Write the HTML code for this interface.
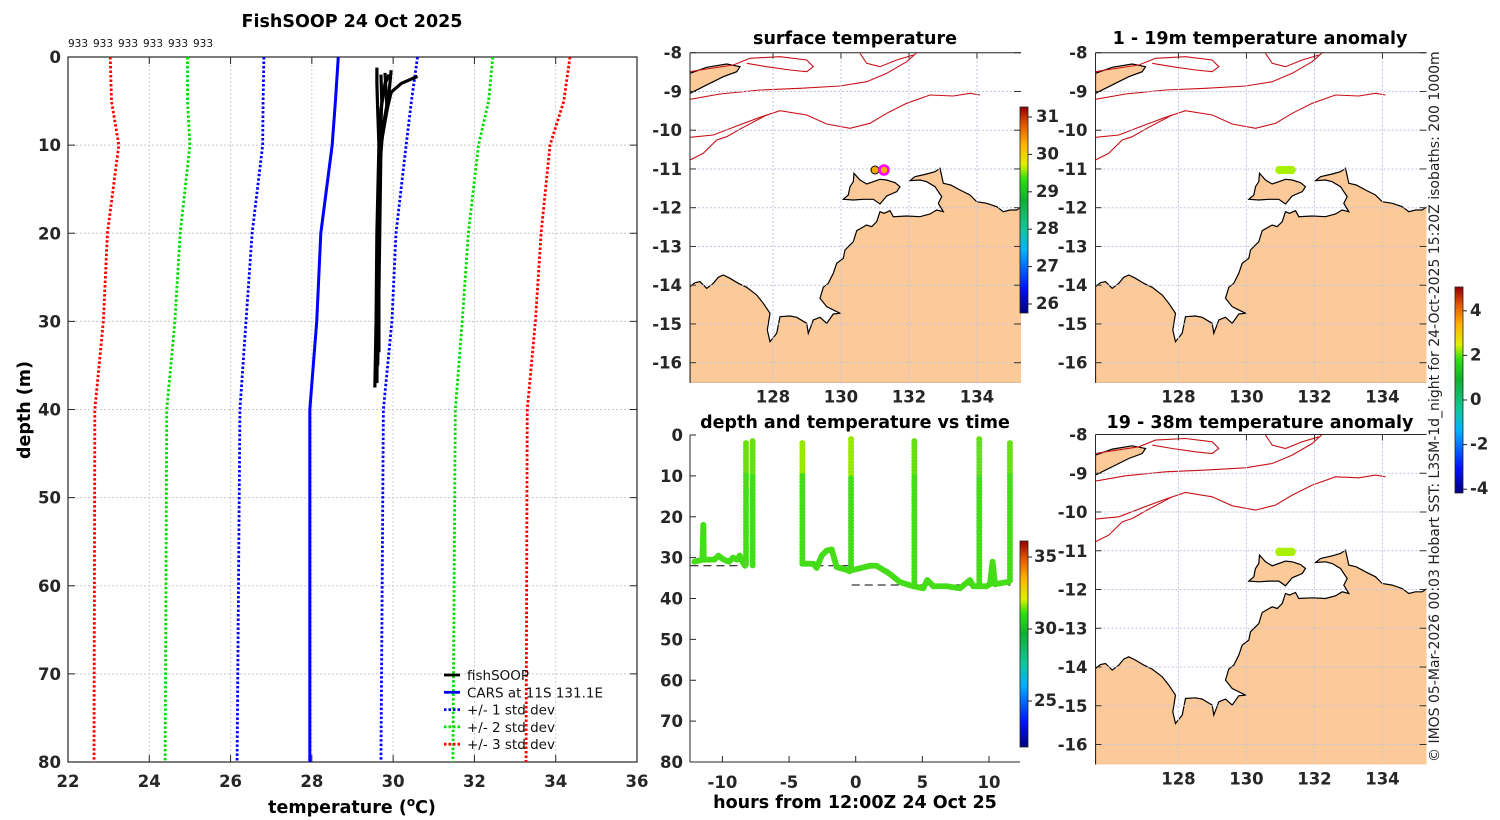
<!DOCTYPE html>
<html><head><meta charset="utf-8">
<style>
html,body{margin:0;padding:0;background:#fff;}
svg{display:block;font-family:"DejaVu Sans","Liberation Sans",sans-serif;}
.tk{font-size:16.5px;font-weight:bold;fill:#262626;}
.ttl{font-size:17.5px;font-weight:bold;fill:#000;}
.pl{font-weight:normal;fill:#111;}
</style></head>
<body>
<svg id="fig" width="1500" height="820" viewBox="0 0 1500 820" xmlns="http://www.w3.org/2000/svg">
<defs>
<linearGradient id="jet" x1="0" y1="1" x2="0" y2="0">
<stop offset="0" stop-color="#00007f"/><stop offset="0.12" stop-color="#0010ff"/><stop offset="0.3" stop-color="#00b0ff"/><stop offset="0.4" stop-color="#10c8a0"/><stop offset="0.55" stop-color="#10b030"/><stop offset="0.65" stop-color="#30e010"/><stop offset="0.72" stop-color="#e0f000"/><stop offset="0.82" stop-color="#ffb000"/><stop offset="0.92" stop-color="#e05000"/><stop offset="1" stop-color="#900000"/>
</linearGradient>
<clipPath id="clipL"><rect x="68" y="57" width="569" height="705"/></clipPath>
<clipPath id="clipM"><rect x="0" y="0" width="331" height="330"/></clipPath>
</defs>
<g id="left"></g>
<g id="timep"></g>
<g id="maps"></g>
<text x="1439" y="762" transform="rotate(-90 1439 762)" font-size="14" fill="#222">© IMOS 05-Mar-2026 00:03 Hobart SST: L3SM-1d_night for 24-Oct-2025 15:20Z isobaths: 200  1000m</text>
</svg>
<script>
// ===== Profile chart data =====
const cDepth = [0,5,10,20,30,40,80];
const carsT  = [28.65,28.58,28.5,28.22,28.12,27.95,27.95];
const p1sd   = [30.6,30.45,30.32,30.07,29.97,29.76,29.7];
const m1sd   = [26.82,26.8,26.79,26.53,26.38,26.23,26.16];
const p2sd   = [32.45,32.35,32.1,31.85,31.7,31.53,31.47];
const m2sd   = [24.94,24.94,25.0,24.76,24.63,24.43,24.39];
const p3sd   = [34.35,34.2,33.86,33.64,33.5,33.3,33.27];
const m3sd   = [23.04,23.07,23.25,22.97,22.87,22.66,22.64];
const fsDepths = [[1.2,3,6,10,20,30,37.5],[2,3,6,10,20,33.5],[2.2,3,4,8,12,20,35],[1.5,4,8,12,30,36],[2,5,10,30,37],[1.8,6,10,30,35]];
const fsTemps  = [[29.6,29.6,29.62,29.65,29.6,29.58,29.55],[29.9,29.8,29.7,29.68,29.65,29.65],[30.6,30.2,29.95,29.75,29.65,29.62,29.6],[29.95,29.9,29.75,29.68,29.6,29.58],[29.7,29.72,29.68,29.62,29.6],[29.8,29.85,29.7,29.64,29.62]];
const tTicks = [22,24,26,28,30,32,34,36];
const dTicks = [0,10,20,30,40,50,60,70,80];
const countLabels = ["933","933","933","933","933","933"];

// ===== Time chart data =====
const trackT = [-12.1,-11.5,-11.43,-11.4,-11.2,-10.6,-10.3,-9.9,-9.5,-9.2,-8.9,-8.7,-8.5,-8.23];
const trackD = [31,30.5,22,30.5,30.5,30.5,29.5,30.5,31,30,30.5,29.5,31,32.3];
const track2T = [-4.0,-3.18,-2.93,-2.55,-2.18,-1.8,-1.43,-0.68,-0.35];
const track2D = [31.5,31.5,32.5,29.5,28.3,28,32.3,33,33.5];
const track3T = [-0.18,1.07,1.57,2.57,3.32,4.32,5.07,5.37,5.82,6.82,7.82,8.57,8.82,9.82,10.07,10.27,10.45,11.32,11.57];
const track3D = [33,32,32,34,36,37,37.5,35.5,37,37,37.5,35.5,37,37,36.5,31,36.5,36,36];
const profT = [-8.23,-7.73,-4.0,-0.35,4.4,9.27,11.57];
const profTop = [2,1.5,2,1,1.5,1,2];
const profBot = [32.3,32,31.5,33.5,37,37,36];
const dashT0 = [-12.4,-4,-0.3];
const dashT1 = [-8.2,-0.5,11.6];
const dashD = [32,32,36.7];
const hTicks = [-10,-5,0,5,10];

// ===== Map data =====
const lonTicks = [128,130,132,134];
const latTicks = [-8,-9,-10,-11,-12,-13,-14,-15,-16];
const sstTicks = [26,27,28,29,30,31];
const anomTicks = [4,2,0,-2,-4];
const tcTicks = [35,30,25];

const NS="http://www.w3.org/2000/svg";
function mk(tag,attrs,parent){const e=document.createElementNS(NS,tag);for(const k in attrs)e.setAttribute(k,attrs[k]);parent.appendChild(e);return e;}
function txt(parent,x,y,s,cls,anchor,extra){const t=mk('text',Object.assign({x:x,y:y,class:(cls===undefined?'tk':cls),'text-anchor':anchor||'middle'},extra||{}),parent);t.textContent=s;return t;}

// ---------- LEFT ----------
const L=document.getElementById('left');
const lx=v=>68+(v-22)*(569/14), ly=d=>57+d*(705/80);
for(const t of tTicks){const g=mk('line',{x1:lx(t),x2:lx(t),y1:57,y2:762,stroke:'#d8c8d0','stroke-dasharray':'2,2'},L);
}
for(const d of dTicks){const g=mk('line',{x1:68,x2:637,y1:ly(d),y2:ly(d),stroke:'#c8c8dc','stroke-dasharray':'2,2'},L);
}
const lframe=mk('rect',{x:68,y:57,width:569,height:705,fill:'none',stroke:'#262626','stroke-width':1.2},L);

for(const t of tTicks){mk('line',{x1:lx(t),x2:lx(t),y1:762,y2:755,stroke:'#262626'},L);mk('line',{x1:lx(t),x2:lx(t),y1:57,y2:64,stroke:'#262626'},L);
const e=txt(L,lx(t),787,String(t));}
for(const d of dTicks){mk('line',{x1:68,x2:75,y1:ly(d),y2:ly(d),stroke:'#262626'},L);mk('line',{x1:630,x2:637,y1:ly(d),y2:ly(d),stroke:'#262626'},L);
const e=txt(L,61,ly(d)+6,String(d),'tk','end');}
const LC=mk('g',{'clip-path':'url(#clipL)'},L);
function pline(arrT,arrD,color,dash,w,name){const pts=arrT.map((t,i)=>lx(t)+','+ly(arrD[i])).join(' ');
const e=mk('polyline',{points:pts,fill:'none',stroke:color,'stroke-width':w,'stroke-dasharray':dash||'none','stroke-linejoin':'round'},LC);
}
pline(m3sd,cDepth,'#ff0000','2.5,2',2.8,'minus-3sd-line');pline(p3sd,cDepth,'#ff0000','2.5,2',2.8,'plus-3sd-line');
pline(m2sd,cDepth,'#00dd00','2.5,2',2.8,'minus-2sd-line');pline(p2sd,cDepth,'#00dd00','2.5,2',2.8,'plus-2sd-line');
pline(m1sd,cDepth,'#0000ff','2.5,2',2.8,'minus-1sd-line');pline(p1sd,cDepth,'#0000ff','2.5,2',2.8,'plus-1sd-line');
pline(carsT,cDepth,'#0000ff',null,3,'cars-mean-line');
for(let i=0;i<fsDepths.length;i++)pline(fsTemps[i],fsDepths[i],'#000',null,3.2,'fishsoop-profile');
countLabels.forEach((s,i)=>{const e=txt(L,68+i*25,47,s,'pl','start',{'font-size':'10.5'});});
const lt=txt(L,352,27,'FishSOOP 24 Oct 2025','ttl');
const yl=txt(L,30,410,'depth (m)','ttl','middle',{transform:'rotate(-90 30 410)'});
const xl=mk('text',{x:352,y:813,class:'ttl','text-anchor':'middle'},L);xl.innerHTML='temperature (<tspan dy="-7" font-size="12">o</tspan><tspan dy="7">C)</tspan>';

const legNames=['fishSOOP','CARS at 11S 131.1E','+/- 1 std dev','+/- 2 std dev','+/- 3 std dev'];
const legCols=['#000','#0000ff','#0000ff','#00dd00','#ff0000'];
legNames.forEach((n,i)=>{const y=675+i*17.3;const g=mk('g',{},L);
mk('line',{x1:444,x2:460,y1:y,y2:y,stroke:legCols[i],'stroke-width':2.8,'stroke-dasharray':i>1?'2.5,2':'none'},g);txt(g,467,y+5,n,'pl','start',{'font-size':'13.5'});});

// ---------- TIME ----------
const T=document.getElementById('timep');
const tx=h=>855.7+h*13.33, ty=d=>435+d*(327/80);
mk('line',{x1:690,x2:690,y1:435,y2:762,stroke:'#262626'},T);mk('line',{x1:690,x2:1020,y1:762,y2:762,stroke:'#262626'},T);
for(const h of hTicks){mk('line',{x1:tx(h),x2:tx(h),y1:762,y2:756,stroke:'#262626'},T);const e=txt(T,tx(h),788,String(h));}
for(const d of dTicks){mk('line',{x1:690,x2:696,y1:ty(d),y2:ty(d),stroke:'#262626'},T);const e=txt(T,683,ty(d)+6,String(d),'tk','end');}
dashT0.forEach((t0,i)=>{const e=mk('line',{x1:tx(t0),x2:tx(dashT1[i]),y1:ty(dashD[i]),y2:ty(dashD[i]),stroke:'#000','stroke-dasharray':'8,5'},T);});
function trackDots(ts,ds){for(let i=0;i<ts.length-1;i++){const n=Math.max(1,Math.ceil(Math.hypot(tx(ts[i+1])-tx(ts[i]),ty(ds[i+1])-ty(ds[i]))/2));
for(let k=0;k<n;k++){const f=k/n;const c=mk('circle',{cx:tx(ts[i]+(ts[i+1]-ts[i])*f),cy:ty(ds[i]+(ds[i+1]-ds[i])*f),r:3,fill:'#44dd18'},T);}}}
trackDots(trackT,trackD);trackDots(track2T,track2D);trackDots(track3T,track3D);
profT.forEach((t,i)=>{for(let d=profTop[i];d<=profBot[i];d+=0.8){const col=d<10?(i==3||i==2?'#98e800':'#66e010'):'#44dd18';const c=mk('circle',{cx:tx(t),cy:ty(d),r:3,fill:col},T);}});
const tcb=mk('rect',{x:1020,y:541,width:8,height:206,fill:'url(#jet)',stroke:'#222','stroke-width':0.8},T);
tcTicks.forEach(v=>{const y=557+(35-v)*14.4;mk('line',{x1:1028,x2:1032,y1:y,y2:y,stroke:'#222'},T);const e=txt(T,1034,y+5,String(v),'tk','start',{'font-size':'14'});});
const tt=txt(T,855,428,'depth and temperature vs time','ttl');
const txl=txt(T,855,808,'hours from 12:00Z 24 Oct 25','ttl');

// ---------- MAPS ----------
const M=document.getElementById('maps');
const mainland=[[30,740],[45,728],[60,725],[80,745],[100,730],[115,712],[130,705],[150,715],[175,730],[200,742],[230,765],[250,790],[270,820],[262,870],[270,905],[290,880],[300,830],[330,828],[350,832],[380,850],[385,880],[400,840],[420,832],[440,850],[460,822],[480,820],[440,800],[420,775],[430,742],[445,730],[460,700],[470,670],[490,655],[495,630],[520,605],[530,572],[560,555],[575,560],[590,545],[600,515],[612,520],[630,512],[640,530],[680,528],[720,530],[750,522],[770,510],[790,515],[775,490],[785,470],[765,440],[740,425],[720,420],[690,422],[705,410],[740,402],[765,395],[780,385],[790,430],[812,435],[840,450],[870,465],[890,485],[920,490],[950,500],[970,515],[990,510],[1010,510],[1025,500],[1025,1030],[30,1030]];
const island=[[490,478],[505,465],[510,440],[520,425],[522,400],[540,420],[560,432],[580,425],[600,418],[620,420],[645,428],[660,440],[650,455],[620,468],[600,492],[580,478],[550,478],[520,480]];
const timor=[[30,100],[80,82],[140,72],[180,80],[170,95],[130,110],[90,130],[30,160]];
const cont1=[[30,178],[120,162],[240,150],[360,145],[480,138],[560,125],[620,100],[680,65],[710,38]];
const cont2=[[30,292],[100,285],[170,258],[240,232],[300,212],[380,225],[440,252],[510,265],[570,250],[620,220],[680,190],[750,165],[820,168],[870,160],[900,165]];
const cont3=[[30,360],[70,340],[110,300],[140,290],[190,262],[260,225]];
const cont4=[[30,95],[60,90],[160,75],[210,55],[300,50],[380,60],[400,80],[380,95],[330,90],[260,80],[200,70]];
const cont5=[[540,40],[560,70],[600,80],[650,60],[700,45]];
function mp(a){return a.map(p=>(p[0]/3-10).toFixed(1)+','+(p[1]/3-12.7).toFixed(1)).join(' ');}
function drawMap(ox,oy,name,yLabels,xLabelY){
 const G=mk('g',{transform:`translate(${ox},${oy})`},M);
 const C=mk('g',{'clip-path':'url(#clipM)'},G);
 mk('polygon',{points:mp(mainland),fill:'#fcca98',stroke:'#000','stroke-width':1.2},C);
 mk('polygon',{points:mp(island),fill:'#fcca98',stroke:'#000','stroke-width':1.2},C);
 mk('polygon',{points:mp(timor),fill:'#fcca98',stroke:'#000','stroke-width':1.2},C);
 [cont1,cont2,cont3,cont4,cont5].forEach(c=>{const e=mk('polyline',{points:mp(c),fill:'none',stroke:'#c81018','stroke-width':1.1},C);});
 const lxm=l=>(l-125.56)*34, lym=la=>(-8-la)*38.75;
 for(const l of lonTicks){mk('line',{x1:lxm(l),x2:lxm(l),y1:0,y2:330,stroke:'#c0c4e4','stroke-dasharray':'2,2'},C);mk('line',{x1:lxm(l),x2:lxm(l),y1:0,y2:6,stroke:'#333'},G);
  if(xLabelY){const e=txt(G,lxm(l),xLabelY,String(l));}}
 for(const la of latTicks){mk('line',{x1:0,x2:330,y1:lym(la),y2:lym(la),stroke:'#c0c4e4','stroke-dasharray':'2,2'},C);mk('line',{x1:0,x2:6,y1:lym(la),y2:lym(la),stroke:'#333'},G);mk('line',{x1:324,x2:331,y1:lym(la),y2:lym(la),stroke:'#333'},G);
  if(yLabels){const e=txt(G,-8,lym(la)+6,String(la),'tk','end');}}
 mk('line',{x1:0,x2:0,y1:0,y2:330,stroke:'#262626'},G);mk('line',{x1:0,x2:331,y1:0,y2:0,stroke:'#262626'},G);
 return G;}
const m1=drawMap(690,52.7,'surface-temp-map',true,350);
const m2=drawMap(1095.5,52.7,'anomaly-map-1-19m',true,350);
const m3=drawMap(1095.5,434.5,'anomaly-map-19-38m',true,350);
let c=mk('circle',{cx:185,cy:117.3,r:4,fill:'#f0a800',stroke:'#000','stroke-width':1},m1);
c=mk('circle',{cx:194,cy:117.3,r:4.5,fill:'#f0b000',stroke:'#ff00ff','stroke-width':2.5},m1);
[m2,m3].forEach(g=>{[184,188,192,196].forEach(x=>{const d=mk('circle',{cx:x,cy:117.3,r:4.3,fill:'#a8f000'},g);});});
// colorbars
const scb=mk('rect',{x:1020,y:107,width:8,height:206,fill:'url(#jet)',stroke:'#222','stroke-width':0.8},M);
sstTicks.forEach(v=>{const y=304-(v-26)*37.4;mk('line',{x1:1028,x2:1032,y1:y,y2:y,stroke:'#222'},M);const e=txt(M,1036,y+5,String(v),'tk','start',{'font-size':'14'});});
const acb=mk('rect',{x:1455,y:287,width:8,height:206,fill:'url(#jet)',stroke:'#222','stroke-width':0.8},M);
anomTicks.forEach(v=>{const y=400-v*22.3;mk('line',{x1:1463,x2:1467,y1:y,y2:y,stroke:'#222'},M);const e=txt(M,1470,y+5,String(v),'tk','start',{'font-size':'14'});});
let e=txt(M,855,44,'surface temperature','ttl');
e=txt(M,1260,44,'1 - 19m temperature anomaly','ttl');
e=txt(M,1260,428,'19 - 38m temperature anomaly','ttl');
</script>
</body></html>
